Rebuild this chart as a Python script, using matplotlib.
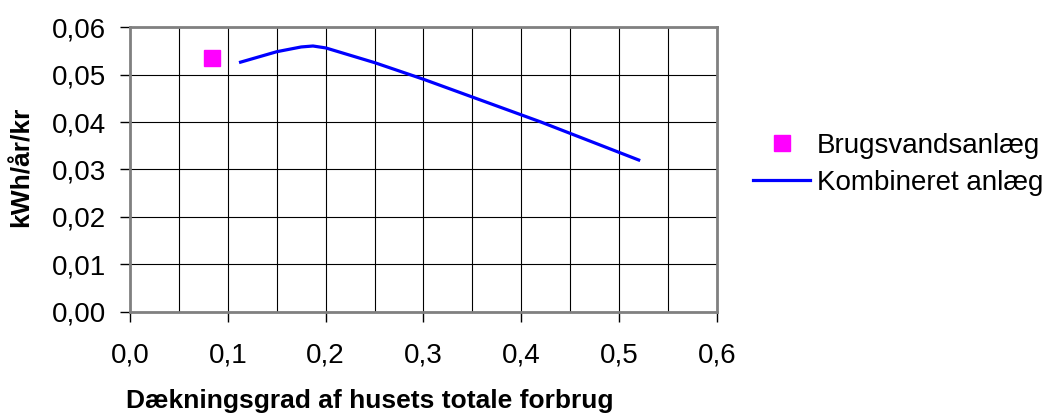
import matplotlib.pyplot as plt
from matplotlib.lines import Line2D

plt.rcParams['font.family'] = ['Liberation Sans', 'DejaVu Sans']

# data
brugs_x = [0.084]
brugs_y = [0.0534]

komb_x = [0.113, 0.15, 0.175, 0.187, 0.20, 0.25, 0.30, 0.42, 0.52]
komb_y = [0.0526, 0.0548, 0.0558, 0.0560, 0.0556, 0.0525, 0.0490, 0.0400, 0.0320]

x_ticks = [0.0, 0.1, 0.2, 0.3, 0.4, 0.5, 0.6]
y_ticks = [0.00, 0.01, 0.02, 0.03, 0.04, 0.05, 0.06]

fig = plt.figure(figsize=(10.59, 4.18), dpi=100)
ax = fig.add_axes([0.1228, 0.2536, 0.5542, 0.6818])

ax.plot(brugs_x, brugs_y, linestyle='none', marker='s', markersize=12,
        color='#FF00FF', label='Brugsvandsanlæg', zorder=3)
ax.plot(komb_x, komb_y, color='#0000FF', linewidth=2.3,
        label='Kombineret anlæg', zorder=3)

ax.set_xlim(0, 0.6)
ax.set_ylim(0, 0.06)
ax.set_xticks(x_ticks)
ax.set_yticks(y_ticks)
ax.set_xticks([0.05, 0.15, 0.25, 0.35, 0.45, 0.55], minor=True)
ax.set_xticklabels([f"{v:.1f}".replace('.', ',') for v in x_ticks])
ax.set_yticklabels([f"{v:.2f}".replace('.', ',') for v in y_ticks])
ax.tick_params(axis='x', which='minor', length=0)
ax.tick_params(axis='both', which='major', labelsize=20, length=7,
               width=1, direction='out')
ax.tick_params(axis='x', pad=15)
ax.tick_params(axis='y', pad=10)

ax.grid(True, which='both', color='black', linewidth=0.8)
ax.set_axisbelow(True)
for s in ax.spines.values():
    s.set_color('#808080')
    s.set_linewidth(2)

fig.text(22 / 1059, 0.60, 'kWh/år/kr', rotation=90, ha='center',
         va='center', fontsize=19, fontweight='bold')
fig.text(370 / 1059, 0.041, 'Dækningsgrad af husets totale forbrug',
         ha='center', va='center', fontsize=19, fontweight='bold')

handles = [Line2D([], [], linestyle='none', marker='s', markersize=12,
                  color='#FF00FF'),
           Line2D([], [], color='#0000FF', linewidth=2.3)]
fig.legend(handles, ['Brugsvandsanlæg', 'Kombineret anlæg'],
           loc='center left', bbox_to_anchor=(0.7007, 0.6065), frameon=False,
           fontsize=20, handlelength=2.05, handletextpad=0.25,
           labelspacing=0.4, borderaxespad=0)

fig.savefig('out.png', dpi=100)
